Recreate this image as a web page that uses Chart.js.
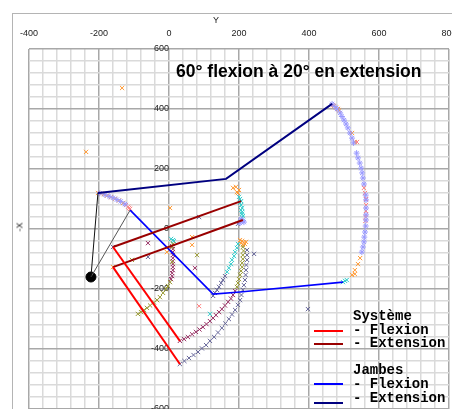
<!DOCTYPE html>
<html>
<head>
<meta charset="utf-8">
<script src="https://cdn.jsdelivr.net/npm/chart.js@4/dist/chart.umd.min.js"></script>
<style>
  html, body { margin:0; padding:0; background:#fff; overflow:hidden; width:452px; height:409px; }
  #frame { position:absolute; left:12px; top:13px; width:520px; height:520px; border:1.5px solid #b4b4b4; background:#fff; }
  #cv { position:absolute; left:0; top:0; }
  .txt { position:absolute; font-family:"Liberation Sans", Arial, sans-serif; color:#222; white-space:nowrap; }
  #title { left:176px; top:61px; font-size:17.5px; font-weight:bold; color:#000; }
  #ylab { left:213px; top:15px; font-size:9px; }
  #xlab { left:15px; top:222px; font-size:9px; transform:rotate(-90deg); transform-origin:center; }
  .leg { position:absolute; font-family:"Liberation Mono", "DejaVu Sans Mono", monospace; font-weight:bold; font-size:14px; color:#000; white-space:nowrap; line-height:14px; }
  .lline { position:absolute; left:314px; width:29px; height:0; }
</style>
</head>
<body>
<div id="frame"></div>
<canvas id="cv" width="480" height="440" style="width:480px;height:440px"></canvas>
<div class="txt" id="title">60° flexion à 20° en extension</div>
<div class="txt" id="ylab">Y</div>
<div class="txt" id="xlab">-X</div>

<div class="leg" style="left:353px;top:309px">Système</div>
<div class="leg" style="left:353px;top:323px">- Flexion</div>
<div class="leg" style="left:353px;top:336px">- Extension</div>
<div class="leg" style="left:353px;top:363px">Jambes</div>
<div class="leg" style="left:353px;top:377px">- Flexion</div>
<div class="leg" style="left:353px;top:391px">- Extension</div>
<div class="lline" style="top:330px;border-top:2px solid #ff0000"></div>
<div class="lline" style="top:343px;border-top:2px solid #990000"></div>
<div class="lline" style="top:383px;border-top:2px solid #0000ff"></div>
<div class="lline" style="top:402px;border-top:2px solid #000080"></div>

<script>
// ---- tick labels ----
const xTickLabels = [-400, -200, 0, 200, 400, 600, 800];
const yTickLabels = [600, 400, 200, 0, -200, -400, -600];

// ---- line series (segments of [x, y]) ----
const systemeFlexion   = [[[-160,-60],[31,-373]], [[-160,-127],[31,-450]]];
const systemeExtension = [[[-160,-60],[206,93]], [[-160,-127],[211,30]]];
const jambesFlexion    = [[[-111,63],[126,-217],[203,-210],[497,-177]]];
const jambesExtension  = [[[-203,120],[163,167],[466,417]]];
const pivotBlack       = [[[-223,-160],[-203,120]]];
const pivotGrey        = [[[-223,-160],[-111,63]]];
const pivotPoint       = [[-223,-160]];

// ---- marker series ----
const orangePts = [[-203,120],[-194,118],[-186,116],[-177,111],[-166,106],[-154,101],[-143,95],[-131,87],
  [471,410],[477,405],[483,400],[486,395],[523,320],[531,290],
  [546,-97],[540,-117],[531,-137],[523,-153],[531,-150],
  [183,137],[191,140],[194,123],[197,120],[200,130],
  [203,-37],[209,-40],[214,-45],[217,-50],[206,-47],[220,-43],[211,-53],
  [-134,470],[-237,257],[3,70],[66,-27],[66,-53],[-6,-77],[-160,-127]];
const lavenderPts = [[-198,119],[-183,114],[-171,109],[-160,104],[-149,98],[-138,92],[-126,83],
  [466,417],[474,408],[480,400],[489,387],[494,375],[500,363],[506,350],[511,337],[517,320],[523,303],
  [527,287],[536,253],[540,237],[545,220],[549,203],[552,187],[554,170],[557,150],[562,113],[563,97],
  [563,70],[563,47],[563,30],[562,10],[560,-10],[558,-27],[557,-43],[554,-60],[551,-77],
  [206,33],[211,27],[214,23],[203,20]];
const pinkPts = [[-123,80],[-117,74],[-111,67],[-114,70],[468,413],[537,290],
  [557,137],[560,120],[563,100],[563,80],[563,60],[562,40],[561,27],[86,-257]];
const cyanPts = [[503,-173],[508,-170],[497,-177],
  [200,107],[203,100],[206,93],[203,87],[206,80],[209,70],[206,63],[209,57],[209,50],[211,43],[209,37],
  [197,-50],[194,-63],[189,-77],[186,-90],[180,-103],[177,-117],[171,-130],[166,-143],
  [6,-33],[11,-37],[14,-40],[117,-283]];
const slatePts = [[160,-157],[154,-170],[149,-180],[143,-193],[137,-203],[131,-213],[126,-223],
  [223,-70],[223,-87],[223,-103],[221,-120],[220,-137],[219,-153],[217,-170],[214,-187],[211,-203],
  [207,-220],[203,-237],[197,-253],[189,-270],[180,-285],[171,-300],[161,-315],[151,-330],[140,-345],
  [129,-360],[117,-373],[106,-387],[94,-398],[83,-410],[70,-420],[57,-430],[44,-440],[31,-450],
  [-60,-93],[86,40],[397,-267],[243,-83],[-160,-60],[197,17]];
const olivePts = [[211,-60],[213,-73],[211,-87],[211,-100],[209,-113],[209,-127],[206,-140],[203,-153],
  [200,-167],[197,-180],[194,-193],
  [11,-50],[9,-60],[9,-110],[3,-177],[-3,-190],[-9,-200],[-17,-213],[-26,-227],[-34,-237],[-43,-245],
  [-54,-255],[-63,-263],[-71,-270],[-80,-277],[-89,-283],[80,-87],[-106,-103]];
const plumPts = [[189,-207],[183,-220],[177,-232],[169,-243],[160,-255],[151,-267],[143,-277],[134,-287],
  [126,-297],[117,-307],[107,-317],[97,-327],[87,-335],[77,-343],[66,-351],[54,-360],[43,-367],[31,-373],
  [9,-57],[11,-67],[11,-77],[11,-87],[11,-97],[11,-107],[11,-117],[11,-127],[11,-137],[9,-147],[9,-157],[6,-167],
  [-60,-47],[74,-130]];

const toXY = arr => arr.map(p => ({x: p[0], y: p[1]}));
const datasets = [];
function addLine(segs, color, width) {
  segs.forEach(s => datasets.push({data: toXY(s), showLine: true, borderColor: color, borderWidth: width,
    pointRadius: 0, fill: false, order: 0}));
}
addLine(systemeFlexion, '#ff0000', 2);
addLine(systemeExtension, '#990000', 2);
addLine(jambesFlexion, '#0000ff', 1.6);
addLine(jambesExtension, '#000080', 2);
addLine(pivotBlack, '#111111', 1);
addLine(pivotGrey, '#555555', 1);
datasets.push({data: toXY(pivotPoint), pointRadius: 5, pointBackgroundColor: '#000', pointBorderColor: '#000', order: 0});

function addPts(arr, color, style) {
  datasets.push({data: toXY(arr), pointStyle: style, pointRadius: 3, borderColor: color, pointBorderWidth: 1,
    backgroundColor: color, showLine: false, order: 1});
}
addPts(lavenderPts, '#9999ff', 'star');
addPts(slatePts, '#666699', 'crossRot');
addPts(olivePts, '#999933', 'crossRot');
addPts(plumPts, '#993366', 'crossRot');
addPts(cyanPts, '#33cccc', 'crossRot');
addPts(pinkPts, '#ff8080', 'crossRot');
addPts(orangePts, '#ff9933', 'crossRot');

const majorColor = '#a8a8a8', minorColor = '#dadada';
const gridOpts = {
  drawTicks: false,
  color: c => (c.tick && c.tick.value % 200 === 0) ? majorColor : minorColor,
  lineWidth: 1.5
};
const tickFont = {family: 'Liberation Sans', size: 9};

new Chart(document.getElementById('cv'), {
  type: 'scatter',
  data: {datasets},
  options: {
    responsive: false,
    animation: false,
    events: [],
    layout: {padding: {left: 29, right: 31, top: 0, bottom: 19}},
    plugins: {legend: {display: false}, tooltip: {enabled: false}},
    scales: {
      x: {
        type: 'linear', position: 'top', min: -400, max: 800,
        afterFit: s => { s.height = 49; },
        ticks: {stepSize: 40, autoSkip: false, maxRotation: 0, padding: 10, font: tickFont, color: '#222',
          callback: v => xTickLabels.includes(v) ? String(v) : ''},
        grid: gridOpts,
        border: {display: false}
      },
      y: {
        type: 'linear', position: {x: 0}, min: -640, max: 600,
        ticks: {stepSize: 40, autoSkip: false, padding: 8, font: tickFont, color: '#222',
          callback: v => yTickLabels.includes(v) ? String(v) : ''},
        grid: gridOpts,
        border: {display: false}
      }
    }
  }
});
</script>
</body>
</html>
